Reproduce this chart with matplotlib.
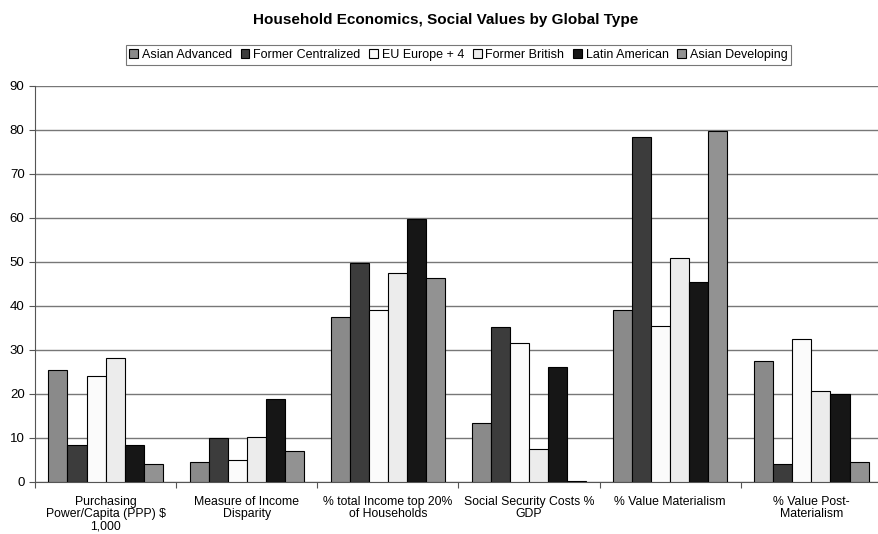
import numpy as np
import matplotlib.pyplot as plt

plt.rcParams['font.family'] = ['Liberation Sans', 'DejaVu Sans']

categories = ['Purchasing\nPower/Capita (PPP) $\n1,000', 'Measure of Income\nDisparity',
              '% total Income top 20%\nof Households', 'Social Security Costs %\nGDP',
              '% Value Materialism', '% Value Post-\nMaterialism']
series = ['Asian Advanced', 'Former Centralized', 'EU Europe + 4', 'Former British',
          'Latin American', 'Asian Developing']
asian_advanced = [25.5, 4.5, 37.4, 13.3, 39.1, 27.5]
former_centralized = [8.3, 10.0, 49.8, 35.3, 78.5, 4.0]
eu_europe = [24.0, 4.9, 39.1, 31.7, 35.5, 32.6]
former_british = [28.1, 10.2, 47.6, 7.6, 50.8, 20.6]
latin_american = [8.3, 18.8, 59.8, 26.1, 45.5, 20.0]
asian_developing = [4.0, 7.1, 46.4, 0.3, 79.8, 4.5]
values = [asian_advanced, former_centralized, eu_europe, former_british,
          latin_american, asian_developing]
colors = ['#8a8a8a', '#3c3c3c', '#fbfbfb', '#ececec', '#161616', '#929292']

fig = plt.figure(figsize=(8.79, 5.34), dpi=100)
ax = fig.add_axes([0.0398, 0.0974, 0.9636, 0.7416])

x = np.arange(len(categories))
w = 0.135
for i, (name, vals) in enumerate(zip(series, values)):
    ax.bar(x + (i - 2.5) * w, vals, w, color=colors[i], edgecolor='black',
           linewidth=0.8, label=name, zorder=3)

ax.set_xlim(-0.5, 5.5)
ax.set_ylim(0, 90)
ax.set_yticks(range(0, 91, 10))
ax.yaxis.grid(True, color='#777777', linewidth=1.0, zorder=0)
ax.set_xticks(np.arange(-0.5, 6, 1))
ax.set_xticklabels([])
ax.set_xticks(x, minor=True)
ax.set_xticklabels(categories, minor=True, fontsize=8.8, linespacing=1.05)
ax.tick_params(axis='x', which='minor', length=0, pad=10)
ax.tick_params(axis='x', which='major', length=4, color='#555555')
ax.tick_params(axis='y', labelsize=9.5, length=4, color='#555555')
for s in ['top', 'right']:
    ax.spines[s].set_visible(False)
ax.spines['left'].set_color('#555555')
ax.spines['bottom'].set_color('#555555')

fig.text(0.507, 0.9625, 'Household Economics, Social Values by Global Type',
         ha='center', va='center', fontsize=11, fontweight='bold')
leg = fig.legend(loc='center', bbox_to_anchor=(0.5216, 0.897), ncol=6, fontsize=9,
                 frameon=True, fancybox=False, edgecolor='#555555',
                 handlelength=0.7, handleheight=0.7, handletextpad=0.3,
                 columnspacing=0.7, borderpad=0.3)
leg.get_frame().set_linewidth(0.8)

fig.savefig('out.png', dpi=100)
